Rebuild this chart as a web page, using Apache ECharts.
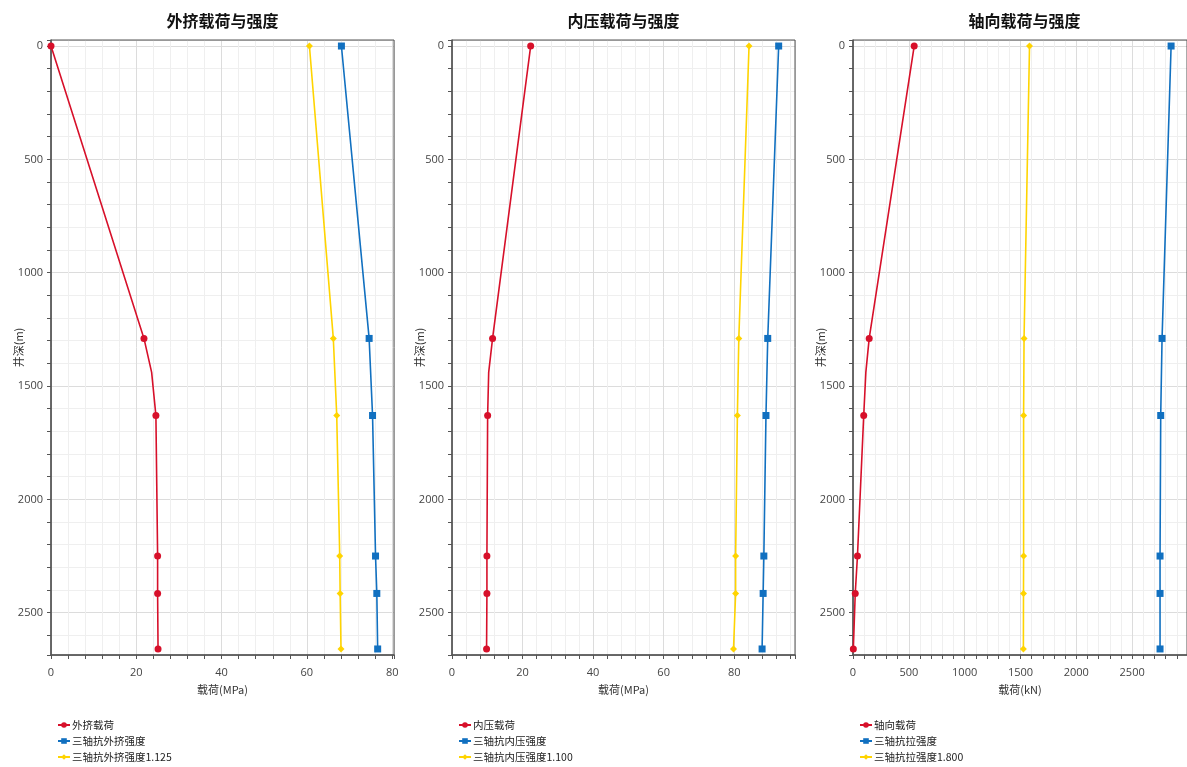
<!DOCTYPE html>
<html>
<head>
<meta charset="utf-8">
<script src="https://cdn.jsdelivr.net/npm/echarts@6/dist/echarts.min.js"></script>
<style>
html,body{margin:0;padding:0;background:#fff;}
#main{width:1187px;height:767px;}
</style>
</head>
<body>
<div id="main"></div>
<script>
// ---- data ----
const panelTitles = ['外挤载荷与强度', '内压载荷与强度', '轴向载荷与强度'];
const xAxisNames = ['载荷(MPa)', '载荷(MPa)', '载荷(kN)'];
const yAxisName = '井深(m)';

const depthsMarked = [0, 1290, 1630, 2250, 2415, 2660];
const loadDepths = [0, 1290, 1440, 1630, 2250, 2415, 2660];
const loadMarkerlessDepths = [1440];

// panel 1
const collapseNames = ['外挤载荷', '三轴抗外挤强度', '三轴抗外挤强度1.125'];
const collapseLoad = [0, 21.8, 23.6, 24.6, 25.0, 25.0, 25.1];
const collapseStrength = [68.1, 74.6, 75.4, 76.1, 76.4, 76.6];
const collapseStrengthSF = [60.6, 66.2, 67.0, 67.7, 67.8, 68.0];

// panel 2
const burstNames = ['内压载荷', '三轴抗内压强度', '三轴抗内压强度1.100'];
const burstLoad = [22.3, 11.5, 10.4, 10.1, 9.9, 9.9, 9.8];
const burstStrength = [92.6, 89.5, 89.0, 88.4, 88.2, 87.9];
const burstStrengthSF = [84.2, 81.3, 80.9, 80.4, 80.4, 79.8];

// panel 3
const axialNames = ['轴向载荷', '三轴抗拉强度', '三轴抗拉强度1.800'];
const axialLoad = [548, 145, 115, 96, 40, 20, 3];
const tensileStrength = [2849, 2768, 2756, 2750, 2750, 2750];
const tensileStrengthSF = [1581, 1532, 1528, 1528, 1527, 1526];

// ---- styles ----
const colors = ['#d7102a', '#1170c0', '#ffd400'];
const symbols = ['circle', 'rect', 'diamond'];
const symbolSizes = [7, 7, 7];

const gridLefts = [51, 452, 853];
const gridWidth = 343;
const gridTop = 40;
const gridHeight = 615;

const chart = echarts.init(document.getElementById('main'), null, {renderer: 'canvas'});

const panels = [
  {names: collapseNames, load: collapseLoad, s: collapseStrength, sf: collapseStrengthSF},
  {names: burstNames, load: burstLoad, s: burstStrength, sf: burstStrengthSF},
  {names: axialNames, load: axialLoad, s: tensileStrength, sf: tensileStrengthSF}
];

const labelFont = {color: '#444', fontSize: 11, fontFamily: 'Open Sans, Noto Sans, sans-serif'};

const option = {
  backgroundColor: '#fff',
  animation: false,
  title: [], grid: [], xAxis: [], yAxis: [], legend: [], series: []
};

panels.forEach((p, i) => {
  const cx = gridLefts[i] + gridWidth / 2;
  option.title.push({
    text: panelTitles[i],
    left: cx, top: 13, textAlign: 'center', padding: 0,
    textStyle: {fontSize: 16, fontWeight: 'bold', color: '#111', fontFamily: 'Noto Sans CJK SC'}
  });
  option.grid.push({
    left: gridLefts[i], top: gridTop, width: gridWidth, height: gridHeight,
    show: true, borderColor: '#555', borderWidth: 1, backgroundColor: 'transparent',
    containLabel: false, z: 3
  });
  option.xAxis.push({
    type: 'value', gridIndex: i,
    min: 0, max: v => v.max * 1.05,
    minInterval: i === 2 ? 500 : 20, maxInterval: i === 2 ? 500 : 20,
    name: xAxisNames[i], nameLocation: 'middle', nameGap: 29, nameMoveOverlap: false,
    nameTextStyle: {color: '#333', fontSize: 11, fontFamily: 'Noto Sans CJK SC'},
    axisLine: {show: true, onZero: false, lineStyle: {color: '#555', width: 1.5}},
    axisTick: {show: true, inside: false, length: 4, lineStyle: {color: '#555'}},
    minorTick: {show: true, splitNumber: 5, length: 4, lineStyle: {color: '#555'}},
    axisLabel: Object.assign({margin: 12, showMinLabel: true, showMaxLabel: false, formatter: v => String(v)}, labelFont),
    splitLine: {show: true, lineStyle: {color: '#dcdcdc', width: 1}},
    minorSplitLine: {show: true, lineStyle: {color: '#efefef', width: 1}}
  });
  option.yAxis.push({
    type: 'value', gridIndex: i, inverse: true,
    min: v => v.min - (v.max - v.min) * 0.01,
    max: v => v.max + (v.max - v.min) * 0.01,
    minInterval: 500, maxInterval: 500,
    name: yAxisName, nameLocation: 'middle', nameGap: 27, nameRotate: 90, nameMoveOverlap: false,
    nameTextStyle: {color: '#333', fontSize: 11, fontFamily: 'Noto Sans CJK SC'},
    axisLine: {show: true, onZero: false, lineStyle: {color: '#555', width: 1.5}},
    axisTick: {show: true, inside: false, length: 4, lineStyle: {color: '#555'}},
    minorTick: {show: true, splitNumber: 5, length: 4, lineStyle: {color: '#555'}},
    axisLabel: Object.assign({margin: 8, showMinLabel: false, showMaxLabel: false, formatter: v => String(v)}, labelFont),
    splitLine: {show: true, lineStyle: {color: '#dcdcdc', width: 1}},
    minorSplitLine: {show: true, lineStyle: {color: '#efefef', width: 1}}
  });
  option.legend.push({
    orient: 'vertical', left: gridLefts[i] + 6, top: 719, padding: 0,
    itemWidth: 12, itemHeight: 7, itemGap: 4,
    data: p.names,
    textStyle: {fontSize: 10.5, lineHeight: 12, color: '#222', fontFamily: 'Noto Sans CJK SC', padding: [0, 0, 0, -3]}
  });

  const loadData = loadDepths.map((d, k) => {
    const item = {value: [p.load[k], d]};
    if (loadMarkerlessDepths.indexOf(d) >= 0) item.symbol = 'none';
    return item;
  });
  const sData = depthsMarked.map((d, k) => [p.s[k], d]);
  const sfData = depthsMarked.map((d, k) => [p.sf[k], d]);
  [loadData, sData, sfData].forEach((data, j) => {
    option.series.push({
      type: 'line', name: p.names[j], xAxisIndex: i, yAxisIndex: i,
      data: data,
      symbol: symbols[j], symbolSize: symbolSizes[j], showSymbol: true,
      clip: true,
      lineStyle: {color: colors[j], width: 1.6},
      itemStyle: {color: colors[j]}
    });
  });
});

chart.setOption(option);
</script>
</body>
</html>
